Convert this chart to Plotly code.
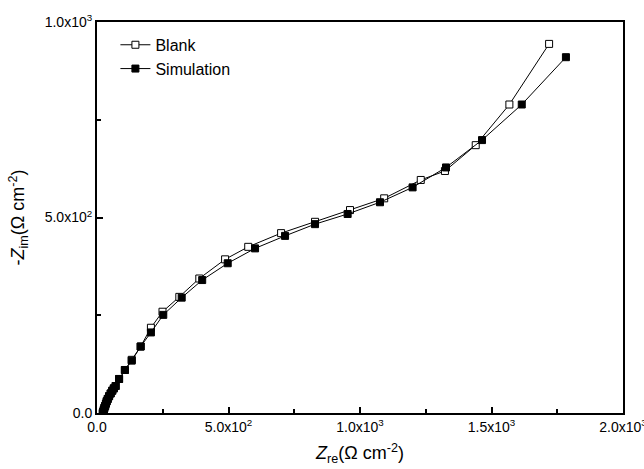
import plotly.graph_objects as go

blank_x = [22, 24, 26, 28, 31, 34, 37, 41, 46, 52, 58, 64, 71, 84, 106, 132, 166, 205, 249, 313, 389, 487, 575, 700, 829, 962, 1092, 1231, 1323, 1440, 1568, 1719]
blank_y = [0, 4, 8, 13, 18, 24, 30, 36, 43, 50, 57, 63, 69, 87, 110, 136, 170, 218, 259, 297, 344, 393, 425, 460, 489, 519, 549, 596, 619, 685, 789, 944]

sim_x = [22, 24, 26, 28, 31, 34, 37, 41, 46, 52, 58, 64, 71, 84, 106, 132, 166, 205, 252, 322, 400, 497, 601, 715, 829, 953, 1076, 1200, 1327, 1464, 1615, 1783]
sim_y = [0, 4, 8, 13, 18, 24, 30, 36, 43, 50, 57, 63, 69, 87, 110, 134, 170, 206, 251, 295, 340, 383, 421, 453, 483, 509, 539, 577, 628, 698, 789, 910]

x_tickvals = [0, 500, 1000, 1500, 2000]
x_ticktext = ["0.0", "5.0x10<sup>2</sup>", "1.0x10<sup>3</sup>", "1.5x10<sup>3</sup>", "2.0x10<sup>3</sup>"]
y_tickvals = [0, 500, 1000]
y_ticktext = ["0.0", "5.0x10<sup>2</sup>", "1.0x10<sup>3</sup>"]

fig = go.Figure()
fig.add_trace(go.Scatter(
    x=blank_x, y=blank_y, mode="lines+markers", name="Blank",
    line=dict(color="black", width=1),
    marker=dict(symbol="square", size=7, color="white", line=dict(color="black", width=1)),
))
fig.add_trace(go.Scatter(
    x=sim_x, y=sim_y, mode="lines+markers", name="Simulation",
    line=dict(color="black", width=1),
    marker=dict(symbol="square", size=7, color="black", line=dict(color="black", width=1)),
))

font = dict(family="Liberation Sans, Arial, sans-serif", color="black", size=14)

fig.update_layout(
    width=644, height=469,
    margin=dict(l=97, r=21, t=22, b=56),
    paper_bgcolor="white", plot_bgcolor="white",
    font=font,
    showlegend=True,
    legend=dict(x=0.035, y=0.985, xanchor="left", yanchor="top",
                bgcolor="rgba(0,0,0,0)", font=dict(size=16, family=font["family"]),
                tracegroupgap=0, itemsizing="trace"),
)
fig.update_xaxes(
    range=[0, 2000], tickvals=x_tickvals, ticktext=x_ticktext,
    showgrid=False, zeroline=False,
    showline=True, linecolor="black", linewidth=2, mirror=True,
    ticks="inside", ticklen=6, tickwidth=2, tickcolor="black",
    minor=dict(dtick=250, tick0=0, ticks="inside", ticklen=4, tickwidth=2, tickcolor="black", showgrid=False),
    title=dict(text="<i>Z</i><sub>re</sub>(Ω cm<sup>-2</sup>)", font=dict(size=18), standoff=13),
    automargin=False, tickfont=dict(size=14), ticklabeloverflow="allow",
)
fig.update_yaxes(
    range=[0, 1000], tickvals=y_tickvals, ticktext=y_ticktext,
    showgrid=False, zeroline=False,
    showline=True, linecolor="black", linewidth=2, mirror=True,
    ticks="inside", ticklen=6, tickwidth=2, tickcolor="black",
    minor=dict(dtick=250, tick0=0, ticks="inside", ticklen=4, tickwidth=2, tickcolor="black", showgrid=False),
    title=dict(text="-<i>Z</i><sub>im</sub>(Ω cm<sup>-2</sup>)", font=dict(size=18), standoff=15),
    automargin=False, tickfont=dict(size=14), ticklabeloverflow="allow",
)

fig.write_html("out.html")
